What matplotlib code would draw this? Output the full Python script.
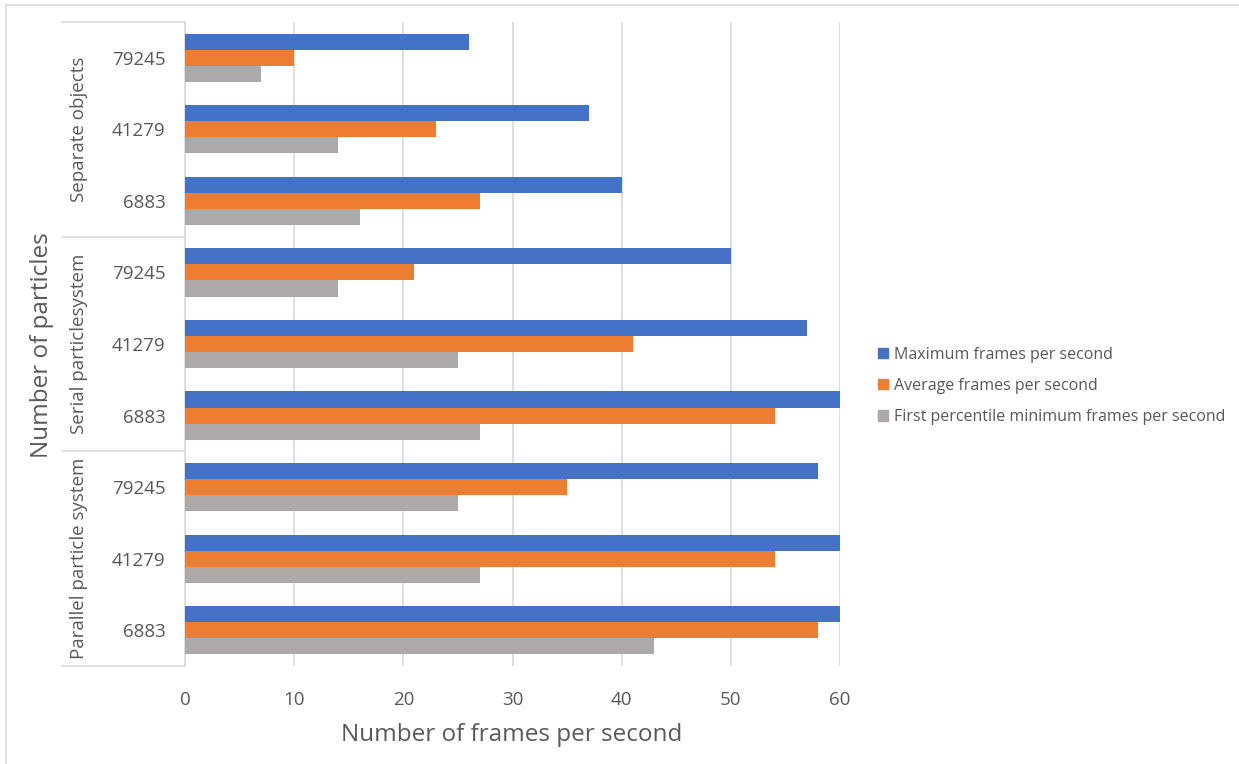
import numpy as np
import matplotlib
matplotlib.use("Agg")
import matplotlib.pyplot as plt
from matplotlib.lines import Line2D
import matplotlib.patches as mpatches

plt.rcParams["font.family"] = ["Open Sans", "DejaVu Sans"]

# data, bottom to top
groups = ["Parallel particle system", "Serial particlesystem", "Separate objects"]
particles = ["6883", "41279", "79245"]
max_fps = [60, 60, 58,  60, 57, 50,  40, 37, 26]
avg_fps = [58, 54, 35,  54, 41, 21,  27, 23, 10]
min_fps = [43, 27, 25,  27, 25, 14,  16, 14, 7]
series_names = ["Maximum frames per second", "Average frames per second",
                "First percentile minimum frames per second"]
COLORS = ["#4472C4", "#ED7D31", "#ADA9A9"]
TXT = "#595959"

W, H = 1239, 764
fig = plt.figure(figsize=(W/100, H/100), dpi=100)

def fx(px): return px / W
def fy(py): return 1 - py / H

ax_l, ax_r, ax_t, ax_b = 185, 840, 22, 666
ax = fig.add_axes([fx(ax_l), fy(ax_b), fx(ax_r) - fx(ax_l), fy(ax_t) - fy(ax_b)])

n = len(max_fps)
y = np.arange(n)
bh = 0.225
for i, (vals, c) in enumerate(zip([max_fps, avg_fps, min_fps], COLORS)):
    ax.barh(y + bh * (1 - i), vals, height=bh, color=c, zorder=3)

ax.set_xlim(0, 60)
ax.set_ylim(-0.5, n - 0.5)
ax.set_xticks(range(0, 61, 10))
ax.tick_params(axis="x", length=0, pad=18, labelsize=13.5, labelcolor=TXT)
ax.set_yticks(y)
ax.set_yticklabels(particles * 3)
ax.tick_params(axis="y", length=0, pad=14, labelsize=13.5, labelcolor=TXT)
ax.grid(axis="x", color="#D9D9D9", linewidth=1.2, zorder=0)
for s in ["top", "right", "bottom"]:
    ax.spines[s].set_visible(False)
ax.spines["left"].set_color("#D9D9D9")
ax.spines["left"].set_linewidth(1.2)

# category separators
sep_col = "#D9D9D9"
slot = (ax_b - ax_t) / n
for k in range(4):
    py = ax_t + k * 3 * slot
    fig.add_artist(Line2D([fx(62), fx(ax_l)], [fy(py), fy(py)], color=sep_col, lw=1.2))
for g, name in enumerate(groups):
    cy = ax_b - (g * 3 + 1.5) * slot
    fig.text(fx(79), fy(cy), name, rotation=90, ha="center", va="center",
             fontsize=13.5, color=TXT)

fig.text(fx(42), fy(345), "Number of particles", rotation=90, ha="center",
         va="center", fontsize=17.5, color=TXT)
fig.text(fx(512), fy(735), "Number of frames per second", ha="center",
         va="center", fontsize=17.5, color=TXT)

# outer frame
fig.add_artist(Line2D([fx(6), 1], [fy(4.5), fy(4.5)], color="#D9D9D9", lw=1.2))
fig.add_artist(Line2D([fx(6), fx(6)], [fy(4.5), 0], color="#D9D9D9", lw=1.2))

handles = [mpatches.Patch(color=c, label=s) for c, s in zip(COLORS, series_names)]
fig.legend(handles=handles, loc="center left", bbox_to_anchor=(fx(864), fy(386)),
           frameon=False, fontsize=11.5, labelcolor=TXT, handlelength=0.6,
           handleheight=0.6, handletextpad=0.4, labelspacing=0.95)

fig.savefig("out.png", dpi=100)
